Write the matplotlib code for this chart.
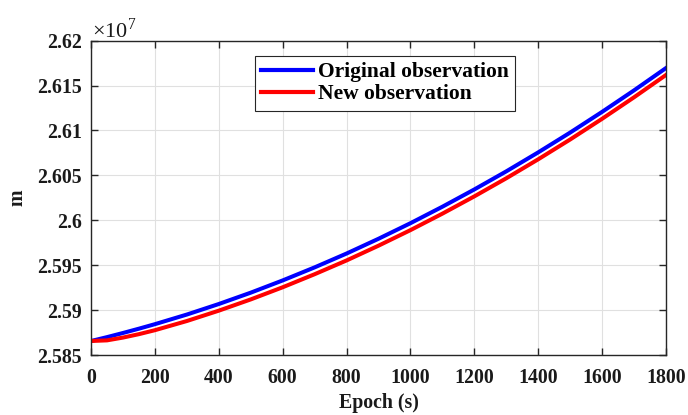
import matplotlib
matplotlib.use("Agg")
import matplotlib.pyplot as plt
from matplotlib.ticker import FuncFormatter, MultipleLocator

epoch = [0, 50, 100, 150, 200, 300, 400, 500, 600, 700, 800, 900, 1000,
         1100, 1200, 1300, 1400, 1500, 1600, 1700, 1800]
original = [2.58661, 2.58704, 2.58750, 2.58798, 2.58848, 2.58955, 2.59072,
            2.59198, 2.59334, 2.59479, 2.59633, 2.59797, 2.59970, 2.60153,
            2.60345, 2.60546, 2.60757, 2.60977, 2.61207, 2.61446, 2.61694]
new = [2.58661, 2.58668, 2.58699, 2.58737, 2.58781, 2.58883, 2.58998,
       2.59123, 2.59258, 2.59403, 2.59556, 2.59720, 2.59893, 2.60076,
       2.60268, 2.60469, 2.60680, 2.60900, 2.61130, 2.61369, 2.61617]
scale = 1e7
y_exponent = 7

plt.rcParams['font.family'] = ['Liberation Serif', 'DejaVu Serif']
plt.rcParams['mathtext.fontset'] = 'custom'
plt.rcParams['mathtext.rm'] = 'Liberation Serif'

fig = plt.figure(figsize=(6.88, 4.15), dpi=100)
ax = fig.add_axes([0.1323, 0.1434, 0.8357, 0.759])

ax.plot(epoch, [v * scale for v in original], color='#0000ff', lw=2.9,
        solid_joinstyle='round', label='Original observation')
ax.plot(epoch, [v * scale for v in new], color='#ff0000', lw=2.9,
        solid_joinstyle='round', label='New observation')

ax.set_xlim(0, 1800)
ax.set_ylim(2.585e7, 2.62e7)
ax.xaxis.set_major_locator(MultipleLocator(200))
ax.yaxis.set_major_locator(MultipleLocator(0.005e7))
ax.yaxis.set_major_formatter(FuncFormatter(lambda v, p: '%g' % round(v / scale, 6)))

ax.annotate(r'$\times 10^{%d}$' % y_exponent, xy=(0, 1), xycoords='axes fraction',
            xytext=(0.5, 2.0), textcoords='offset points',
            ha='left', va='baseline', fontsize=16, color='#1a1a1a')

ax.grid(True, color='#e0e0e0', lw=0.8)
ax.set_axisbelow(True)
ax.tick_params(direction='in', top=True, right=True, length=5,
               width=1, colors='#262626', labelsize=14.3)
ax.tick_params(axis='x', pad=9.0)
ax.tick_params(axis='y', pad=6.5)
for lab in ax.get_xticklabels() + ax.get_yticklabels():
    lab.set_fontweight('bold')
    lab.set_color('#1a1a1a')
for s in ax.spines.values():
    s.set_color('#262626')
    s.set_linewidth(1)

ax.set_xlabel('Epoch (s)', fontsize=14.3, fontweight='bold', labelpad=3.5, color='#1a1a1a')
ax.set_ylabel('m', fontsize=14.3, fontweight='bold', labelpad=7, color='#1a1a1a')

leg = ax.legend(loc='upper left', bbox_to_anchor=(0.285, 0.951),
                borderaxespad=0, fancybox=False, framealpha=1,
                edgecolor='#262626', handlelength=2.4, handletextpad=0.23,
                borderpad=0.3, labelspacing=0.08,
                prop={'family': 'Liberation Serif', 'weight': 'bold', 'size': 15.5})
leg.get_frame().set_linewidth(0.8)
for line in leg.get_lines():
    line.set_linewidth(3)

fig.savefig('out.png', dpi=100)
